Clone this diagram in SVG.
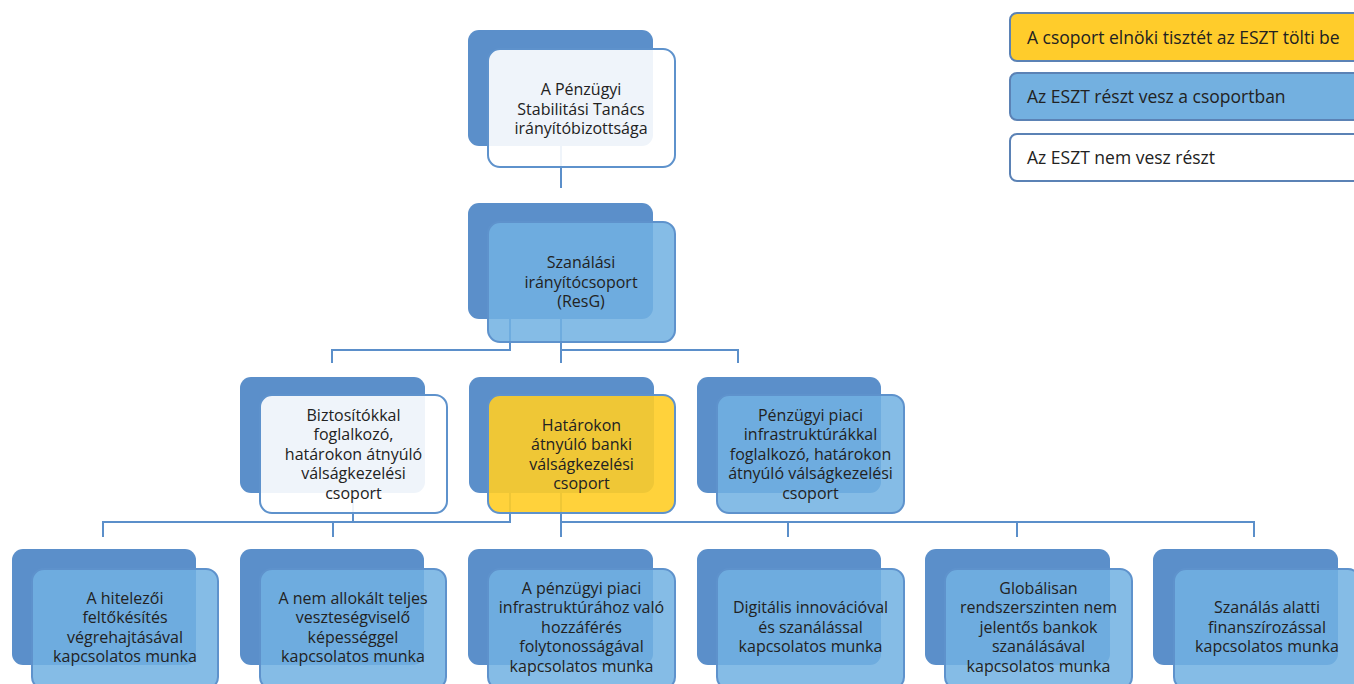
<svg xmlns="http://www.w3.org/2000/svg" width="1354" height="684" viewBox="0 0 1354 684">
<style>
.back{fill:#5B8FCA;}
.fb{fill:rgb(113,177,226);fill-opacity:0.86;stroke:#5E92CC;stroke-width:2;}
.fw{fill:#ffffff;fill-opacity:0.9;stroke:#5E92CC;stroke-width:2;}
.fy{fill:rgb(255,205,38);fill-opacity:0.9;stroke:#5E92CC;stroke-width:2;}
.conn{fill:none;stroke:#5B8FCA;stroke-width:2;}
text{font-family:"Open Sans","Noto Sans","Liberation Sans",sans-serif;font-size:16px;fill:#222222;}
.c{text-anchor:middle;}
.lg{stroke:#5B82B5;stroke-width:2;}
.lt{font-size:17.5px;}
</style>
<rect width="1354" height="684" fill="#ffffff"/>

<g id="backs">
<rect class="back" x="468" y="30" width="185" height="116" rx="11"/>
<rect class="back" x="468" y="203" width="185" height="116" rx="11"/>
<rect class="back" x="240" y="377" width="185" height="116" rx="11"/>
<rect class="back" x="469" y="377" width="185" height="116" rx="11"/>
<rect class="back" x="697" y="377" width="184" height="116" rx="11"/>
<rect class="back" x="12" y="549" width="184" height="116" rx="11"/>
<rect class="back" x="240" y="549" width="184" height="116" rx="11"/>
<rect class="back" x="468" y="549" width="185" height="116" rx="11"/>
<rect class="back" x="697" y="549" width="184" height="116" rx="11"/>
<rect class="back" x="925" y="549" width="185" height="116" rx="11"/>
<rect class="back" x="1153" y="549" width="185" height="116" rx="11"/>
</g>

<g id="connectors">
<path class="conn" d="M561,146 V188"/>
<path class="conn" d="M510,319 V350 H332 V363"/>
<path class="conn" d="M561,319 V363 M561,350 H738 V363"/>
<path class="conn" d="M353,493 V522"/>
<path class="conn" d="M510,493 V522 H103 V537 M333,522 V537"/>
<path class="conn" d="M561,493 V537 M561,522 H1254 V537 M788,522 V537 M1017,522 V537"/>
</g>

<g id="n-fsb">
<rect class="fw" x="488" y="49" width="187" height="118" rx="12"/>
<text class="c" x="581" y="95">A Pénzügyi</text>
<text class="c" x="581" y="114.5">Stabilitási Tanács</text>
<text class="c" x="581" y="134">irányítóbizottsága</text>
</g>

<g id="n-resg">
<rect class="fb" x="488" y="222" width="187" height="120" rx="12"/>
<text class="c" x="581" y="268">Szanálási</text>
<text class="c" x="581" y="287.5">irányítócsoport</text>
<text class="c" x="581" y="307">(ResG)</text>
</g>

<g id="n-biztositok">
<rect class="fw" x="260" y="395" width="187" height="118" rx="12"/>
<text class="c" x="353.5" y="420.5">Biztosítókkal</text>
<text class="c" x="353.5" y="440">foglalkozó,</text>
<text class="c" x="353.5" y="459.5">határokon átnyúló</text>
<text class="c" x="353.5" y="479">válságkezelési</text>
<text class="c" x="353.5" y="498.5">csoport</text>
</g>

<g id="n-bank">
<rect class="fy" x="488" y="395" width="187" height="118" rx="12"/>
<text class="c" x="581.5" y="430.5">Határokon</text>
<text class="c" x="581.5" y="450">átnyúló banki</text>
<text class="c" x="581.5" y="469.5">válságkezelési</text>
<text class="c" x="581.5" y="489">csoport</text>
</g>

<g id="n-fmi">
<rect class="fb" x="717" y="395" width="187" height="118" rx="12"/>
<text class="c" x="810.5" y="420.5">Pénzügyi piaci</text>
<text class="c" x="810.5" y="440">infrastruktúrákkal</text>
<text class="c" x="810.5" y="459.5">foglalkozó, határokon</text>
<text class="c" x="810.5" y="479">átnyúló válságkezelési</text>
<text class="c" x="810.5" y="498.5">csoport</text>
</g>

<g id="n-bail">
<rect class="fb" x="32" y="569" width="186" height="120" rx="12"/>
<text class="c" x="125" y="603.5">A hitelezői</text>
<text class="c" x="125" y="623">feltőkésítés</text>
<text class="c" x="125" y="642.5">végrehajtásával</text>
<text class="c" x="125" y="662">kapcsolatos munka</text>
</g>

<g id="n-tlac">
<rect class="fb" x="260" y="569" width="186" height="120" rx="12"/>
<text class="c" x="353" y="603.5">A nem allokált teljes</text>
<text class="c" x="353" y="623">veszteségviselő</text>
<text class="c" x="353" y="642.5">képességgel</text>
<text class="c" x="353" y="662">kapcsolatos munka</text>
</g>

<g id="n-fmiaccess">
<rect class="fb" x="488" y="569" width="187" height="120" rx="12"/>
<text class="c" x="581.5" y="593.5">A pénzügyi piaci</text>
<text class="c" x="581.5" y="613">infrastruktúrához való</text>
<text class="c" x="581.5" y="632.5">hozzáférés</text>
<text class="c" x="581.5" y="652">folytonosságával</text>
<text class="c" x="581.5" y="671.5">kapcsolatos munka</text>
</g>

<g id="n-digital">
<rect class="fb" x="717" y="569" width="187" height="120" rx="12"/>
<text class="c" x="810.5" y="613">Digitális innovációval</text>
<text class="c" x="810.5" y="632.5">és szanálással</text>
<text class="c" x="810.5" y="652">kapcsolatos munka</text>
</g>

<g id="n-nonsib">
<rect class="fb" x="945" y="569" width="187" height="120" rx="12"/>
<text class="c" x="1038.5" y="593.5">Globálisan</text>
<text class="c" x="1038.5" y="613">rendszerszinten nem</text>
<text class="c" x="1038.5" y="632.5">jelentős bankok</text>
<text class="c" x="1038.5" y="652">szanálásával</text>
<text class="c" x="1038.5" y="671.5">kapcsolatos munka</text>
</g>

<g id="n-funding">
<rect class="fb" x="1174" y="569" width="186" height="120" rx="12"/>
<text class="c" x="1267" y="613">Szanálás alatti</text>
<text class="c" x="1267" y="632.5">finanszírozással</text>
<text class="c" x="1267" y="652">kapcsolatos munka</text>
</g>

<g id="legend">
<rect class="lg" x="1010" y="13" width="360" height="48" rx="7" fill="#FFCC2B"/>
<text class="lt" x="1027" y="43.5">A csoport elnöki tisztét az ESZT tölti be</text>
<rect class="lg" x="1010" y="73" width="360" height="47" rx="7" fill="#73B0E0"/>
<text class="lt" x="1027" y="103">Az ESZT részt vesz a csoportban</text>
<rect class="lg" x="1010" y="134" width="360" height="47" rx="7" fill="#ffffff"/>
<text class="lt" x="1027" y="164">Az ESZT nem vesz részt</text>
</g>
</svg>
